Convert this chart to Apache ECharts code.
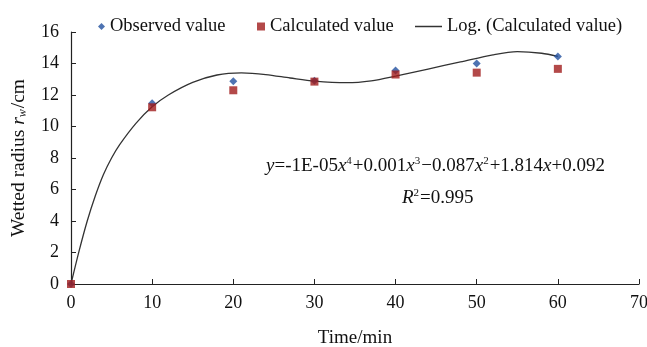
<!DOCTYPE html>
<html>
<head>
<meta charset="utf-8">
<script src="https://cdn.jsdelivr.net/npm/echarts@6/dist/echarts.min.js"></script>
<style>
html,body{margin:0;padding:0;background:#fff;}
#chart{width:647px;height:347px;}
</style>
</head>
<body>
<div id="chart"></div>
<script>
// Data
var timeMin = [0, 10, 20, 30, 40, 50, 60];
var observedValue = [0, 11.47, 12.88, 12.9, 13.55, 14.0, 14.45];
var calculatedValue = [0, 11.22, 12.3, 12.85, 13.3, 13.42, 13.66];
// Trendline
var trendX = [0, 1, 2, 3, 4, 5, 6, 8, 10, 12, 15, 18, 21, 24, 27, 30, 34, 37, 40, 44, 48, 52, 55, 58, 60];
var trendY = [0, 2.1, 4.0, 5.6, 6.95, 8.0, 8.85, 10.2, 11.25, 12.0, 12.8, 13.27, 13.4, 13.3, 13.08, 12.88, 12.78, 12.9, 13.2, 13.65, 14.1, 14.55, 14.75, 14.65, 14.45];
var xTicks = [0, 10, 20, 30, 40, 50, 60, 70];
var yTicks = [0, 2, 4, 6, 8, 10, 12, 14, 16];

function pairs(xs, ys) { return xs.map(function (x, i) { return [x, ys[i]]; }); }

var font = '"Liberation Serif", "Times New Roman", serif';
var chart = echarts.init(document.getElementById('chart'), null, {renderer: 'canvas'});
var legendText = {fontFamily: font, fontSize: 18.5, color: '#111'};
var eqRich = {
  n: {fontFamily: font, fontSize: 19, fill: '#111'},
  i: {fontFamily: font, fontSize: 19, fontStyle: 'italic', fill: '#111'},
  p: {fontFamily: font, fontSize: 11, fill: '#111', verticalAlign: 'top', padding: [0, 1, 9, 0]}
};
chart.setOption({
  backgroundColor: '#fff',
  animation: false,
  grid: {left: 71, right: 8, top: 32, bottom: 63, outerBoundsMode: 'none', containLabel: false},
  legend: [
    {data: ['Observed value'], left: 93, top: 12, itemWidth: 7, itemHeight: 7, itemGap: 5, textStyle: legendText},
    {data: ['Calculated value'], left: 252, top: 12, itemWidth: 8, itemHeight: 8, itemGap: 3, textStyle: legendText},
    {data: [{name: 'Log. (Calculated value)', icon: 'rect'}], left: 410, top: 12, itemWidth: 27, itemHeight: 1.5, itemGap: 8, textStyle: legendText}
  ],
  xAxis: {
    type: 'value', min: xTicks[0], max: xTicks[xTicks.length - 1], interval: 10,
    name: 'Time/min', nameLocation: 'middle', nameGap: 45,
    nameTextStyle: {fontFamily: font, fontSize: 19, color: '#111'},
    axisLine: {lineStyle: {color: '#222', width: 1.2}},
    axisTick: {inside: true, length: 5, lineStyle: {color: '#222'}},
    axisLabel: {fontFamily: font, fontSize: 18, color: '#111', margin: 10},
    splitLine: {show: false}
  },
  yAxis: {
    type: 'value', min: yTicks[0], max: yTicks[yTicks.length - 1], interval: 2,
    name: '{n|Wetted radius }{i|r}{s|w}{n|/cm}', nameLocation: 'middle', nameGap: 42,
    nameTextStyle: {
      fontFamily: font, fontSize: 19.5, color: '#111',
      rich: {
        n: {fontFamily: font, fontSize: 19.5, color: '#111'},
        i: {fontFamily: font, fontSize: 19.5, fontStyle: 'italic', color: '#111'},
        s: {fontFamily: font, fontSize: 12, fontStyle: 'italic', color: '#111', verticalAlign: 'bottom', padding: [7, 1, 0, 0]}
      }
    },
    axisLine: {show: true, lineStyle: {color: '#222', width: 1.2}},
    axisTick: {show: true, inside: true, length: 5, lineStyle: {color: '#222'}},
    axisLabel: {fontFamily: font, fontSize: 18, color: '#111', margin: 12},
    splitLine: {show: false}
  },
  series: [
    {
      name: 'Log. (Calculated value)', type: 'line', data: pairs(trendX, trendY),
      smooth: 0.3, showSymbol: false, symbol: 'none', z: 1,
      lineStyle: {color: '#333', width: 1.3}, itemStyle: {color: '#333'}
    },
    {
      name: 'Observed value', type: 'scatter', data: pairs(timeMin, observedValue),
      symbol: 'diamond', symbolSize: 8, z: 2, itemStyle: {color: '#22509f'}
    },
    {
      name: 'Calculated value', type: 'scatter', data: pairs(timeMin, calculatedValue),
      symbol: 'rect', symbolSize: 8, z: 3, itemStyle: {color: '#a01c1c'}
    }
  ],
  graphic: [
    {
      type: 'text', left: 266, top: 156,
      style: {
        rich: eqRich,
        text: '{i|y}{n|=-1E-05}{i|x}{p|4}{n|+0.001}{i|x}{p|3}{n|\u22120.087}{i|x}{p|2}{n|+1.814}{i|x}{n|+0.092}'
      }
    },
    {
      type: 'text', left: 402, top: 188,
      style: {
        rich: eqRich,
        text: '{i|R}{p|2}{n|=0.995}'
      }
    }
  ]
});
</script>
</body>
</html>
